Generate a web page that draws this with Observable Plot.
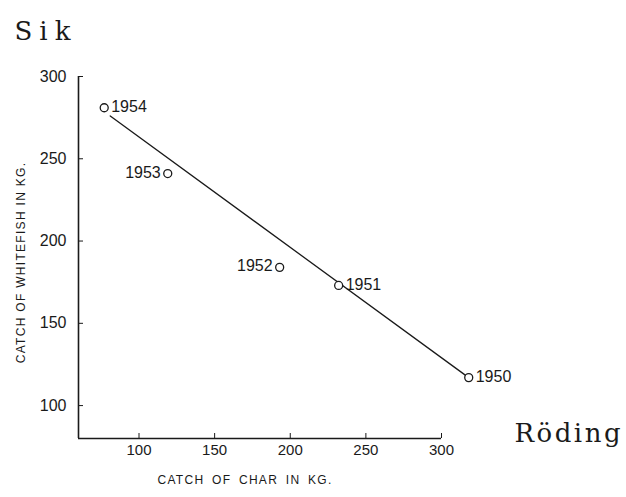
<!DOCTYPE html>
<html><head><meta charset="utf-8">
<script src="https://cdn.jsdelivr.net/npm/d3@7"></script>
<script src="https://cdn.jsdelivr.net/npm/@observablehq/plot@0.6"></script>
<style>body{margin:0;background:#fff}</style>
</head><body><div id="chart"></div>
<script>
const years = [1950, 1951, 1952, 1953, 1954];
const charKg = [318, 232, 193, 119, 77];
const whitefishKg = [117, 173, 184, 241, 281];
const trendCharKg = [81, 318];
const trendWhitefishKg = [276, 117];
const xTicks = [100, 150, 200, 250, 300];
const yTicks = [100, 150, 200, 250, 300];
const yTitle = "CATCH OF WHITEFISH IN KG.";
const xTitle = "CATCH OF CHAR IN KG.";
const topWord = "Sik";
const rightWord = "Röding";

const points = years.map((y, i) => ({year: y, char: charKg[i], whitefish: whitefishKg[i]}));
const trend = trendCharKg.map((c, i) => ({char: c, whitefish: trendWhitefishKg[i]}));
const leftLabelled = new Set([1952, 1953]);
const ink = "#1a1a1a";
const sans = "'Liberation Sans Narrow','Liberation Sans',Arial,sans-serif";
const wide = "'Liberation Sans',Arial,sans-serif";
const typewriter = "'DejaVu Serif',serif";

const chart = Plot.plot({
  width: 626,
  height: 497,
  marginLeft: 78,
  marginTop: 76,
  marginBottom: 59,
  marginRight: 185,
  style: {fontFamily: sans, fontSize: "15px", color: ink, background: "#fff"},
  x: {domain: [60, 300]},
  y: {domain: [80, 300]},
  marks: [
    Plot.axisX({ticks: xTicks, tickSize: -5, tickPadding: 11, label: null, stroke: ink, fontSize: 15}),
    Plot.axisY({ticks: yTicks, tickSize: -5, tickPadding: 17, label: null, stroke: ink, fontSize: 16, fontFamily: wide}),
    Plot.ruleX([60], {stroke: ink, strokeWidth: 1.6}),
    Plot.ruleY([80], {stroke: ink, strokeWidth: 1.6}),
    Plot.line(trend, {x: "char", y: "whitefish", stroke: ink, strokeWidth: 1.3}),
    Plot.dot(points, {x: "char", y: "whitefish", r: 4, stroke: ink, strokeWidth: 1.3, fill: "#fff"}),
    Plot.text(points.filter(d => !leftLabelled.has(d.year)), {x: "char", y: "whitefish", text: d => String(d.year), textAnchor: "start", dx: 7, dy: -1, fontSize: 16, fill: ink}),
    Plot.text(points.filter(d => leftLabelled.has(d.year)), {x: "char", y: "whitefish", text: d => String(d.year), textAnchor: "end", dx: -7, dy: -1, fontSize: 16, fill: ink}),
    Plot.text([yTitle], {frameAnchor: "left", textAnchor: "middle", rotate: -90, dx: -57, dy: 5, fontSize: 12, fill: ink}),
    Plot.text([xTitle], {frameAnchor: "bottom", textAnchor: "middle", dx: -15, dy: 45, fontSize: 12, fill: ink}),
    Plot.text([topWord], {frameAnchor: "top-left", textAnchor: "start", dx: -64, dy: -55, fontSize: 26, fontFamily: typewriter, fill: ink}),
    Plot.text([rightWord], {frameAnchor: "bottom-right", textAnchor: "start", dx: 73, dy: 3, fontSize: 26, fontFamily: typewriter, fill: ink})
  ]
});
const spacing = new Map([[yTitle, "1.3px"], [xTitle, "1.3px"], [topWord, "7px"], [rightWord, "2.5px"]]);
d3.select(chart).selectAll("text").each(function() {
  const s = spacing.get(this.textContent);
  if (s) {
    this.style.letterSpacing = s;
    if (this.textContent === xTitle) this.style.wordSpacing = "3px";
    if (this.textContent === topWord || this.textContent === rightWord) this.style.fontWeight = "300";
  }
});
document.getElementById("chart").appendChild(chart);
</script></body></html>
